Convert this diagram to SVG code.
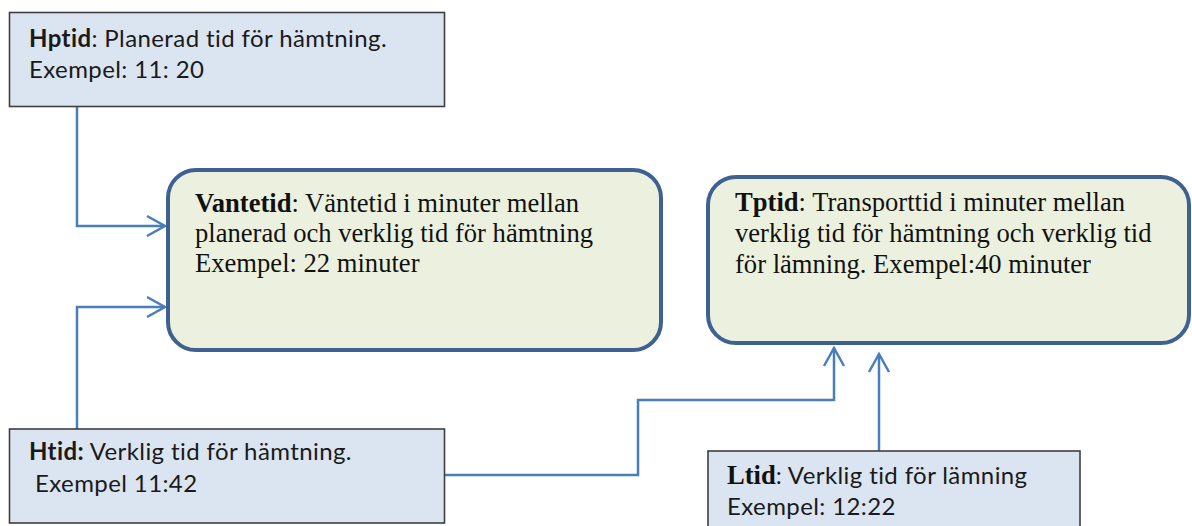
<svg xmlns="http://www.w3.org/2000/svg" width="1192" height="526" viewBox="0 0 1192 526">
<style>
.sq{fill:#dbe5f1;stroke:#3f3f3f;stroke-width:1.6}
.rd{fill:#ebf1de;stroke:#3e6192;stroke-width:4}
.cal{font-family:Lato,"Liberation Sans",sans-serif;font-size:24px;letter-spacing:0.4px;fill:#1a1a1a}
.tnr{font-family:"Liberation Serif",serif;font-size:26.6px;letter-spacing:0;fill:#111}
.b{font-weight:bold}
.ln{fill:none;stroke:#4a7ebb;stroke-width:2.5}
</style>
<defs>
<marker id="ah" markerUnits="userSpaceOnUse" viewBox="-22 -13 24 26" markerWidth="24" markerHeight="26" refX="0" refY="0" orient="auto" overflow="visible">
<path d="M-18,-10 L0,0 L-18,10" fill="none" stroke="#4a7ebb" stroke-width="2.5"/>
</marker>
</defs>
<g id="connectors">
<path class="ln" d="M77,107 V226 H165" marker-end="url(#ah)"/>
<path class="ln" d="M77,429 V307 H165" marker-end="url(#ah)"/>
<path class="ln" d="M445,475 H638 V400 H834 V348" marker-end="url(#ah)"/>
<path class="ln" d="M879,451 V354" marker-end="url(#ah)"/>
</g>
<g id="hptid">
<rect class="sq" x="9.5" y="12.5" width="435" height="94"/>
<text class="cal" x="29" y="47"><tspan class="b">Hptid</tspan>: Planerad tid för hämtning.</text>
<text class="cal" x="29" y="78">Exempel: 11: 20</text>
</g>
<g id="vantetid">
<rect class="rd" x="168" y="170" width="493" height="180" rx="28"/>
<text class="tnr" x="195" y="212"><tspan class="b">Vantetid</tspan>: Väntetid i minuter mellan</text>
<text class="tnr" x="195" y="242">planerad och verklig tid för hämtning</text>
<text class="tnr" x="195" y="272">Exempel: 22 minuter</text>
</g>
<g id="tptid">
<rect class="rd" x="708" y="177" width="481" height="166" rx="28"/>
<text class="tnr" x="735" y="211"><tspan class="b">Tptid</tspan>: Transporttid i minuter mellan</text>
<text class="tnr" x="735" y="242">verklig tid för hämtning och verklig tid</text>
<text class="tnr" x="735" y="273">för lämning. Exempel:40 minuter</text>
</g>
<g id="htid">
<rect class="sq" x="9.5" y="429" width="435" height="94"/>
<text class="cal" x="29" y="460"><tspan class="b">Htid:</tspan> Verklig tid för hämtning.</text>
<text class="cal" x="35" y="492">Exempel 11:42</text>
</g>
<g id="ltid">
<rect class="sq" x="708" y="451" width="372" height="90"/>
<text class="cal" x="727" y="484"><tspan class="tnr b" style="letter-spacing:0">Ltid</tspan>: Verklig tid för lämning</text>
<text class="cal" x="727" y="515">Exempel: 12:22</text>
</g>
</svg>
